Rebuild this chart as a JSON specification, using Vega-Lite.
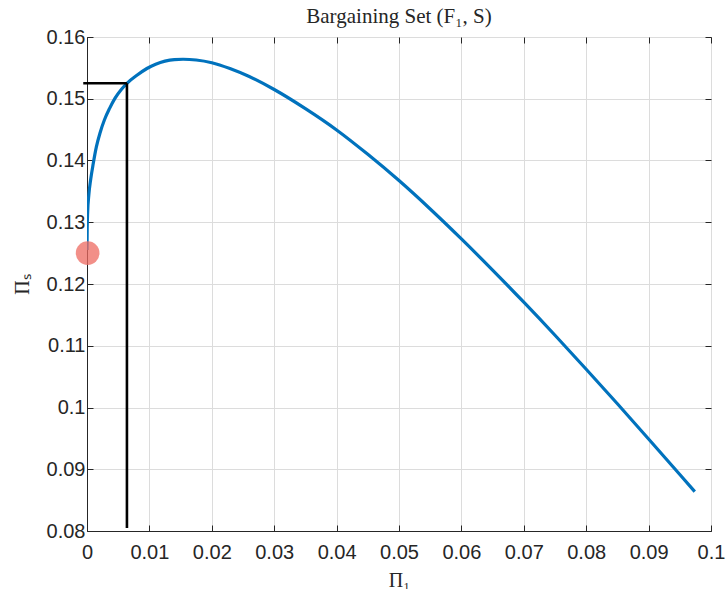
{
  "$schema": "https://vega.github.io/schema/vega-lite/v6.json",
  "width": 624,
  "height": 494,
  "autosize": {"type": "none"},
  "padding": {"left": 87, "top": 37, "right": 16, "bottom": 58},
  "background": "white",
  "title": {"text": "Bargaining Set (F₁, S)", "font": "Liberation Serif", "fontSize": 21, "fontWeight": "normal", "color": "#262626", "offset": 0},
  "config": {
    "view": {"stroke": "#262626", "strokeWidth": 1},
    "axis": {
      "labelFont": "Liberation Sans", "labelFontSize": 20, "labelColor": "#262626", "labelFlush": false,
      "domainColor": "#262626", "tickColor": "#262626", "gridColor": "#dcdcdc", "gridWidth": 1,
      "tickSize": -6, "titleFont": "Liberation Serif", "titleFontSize": 20, "titleFontWeight": "normal", "titleColor": "#262626"
    }
  },
  "datasets": {
    "curve": [
      {"p1": 0, "ps": 0.1255}, {"p1": 0.00003, "ps": 0.129}, {"p1": 0.0001, "ps": 0.1315},
      {"p1": 0.0003, "ps": 0.1345}, {"p1": 0.0006, "ps": 0.137}, {"p1": 0.001, "ps": 0.1395},
      {"p1": 0.0015, "ps": 0.1422}, {"p1": 0.0021, "ps": 0.1445}, {"p1": 0.0028, "ps": 0.1466},
      {"p1": 0.0036, "ps": 0.1484}, {"p1": 0.0045, "ps": 0.1501}, {"p1": 0.0055, "ps": 0.1515},
      {"p1": 0.0064, "ps": 0.1525}, {"p1": 0.008, "ps": 0.1538}, {"p1": 0.0096, "ps": 0.1549},
      {"p1": 0.011, "ps": 0.1556}, {"p1": 0.0125, "ps": 0.1561}, {"p1": 0.014, "ps": 0.15635},
      {"p1": 0.0154, "ps": 0.1564}, {"p1": 0.0175, "ps": 0.15628}, {"p1": 0.02, "ps": 0.15584},
      {"p1": 0.0229, "ps": 0.1549}, {"p1": 0.026, "ps": 0.1536}, {"p1": 0.03, "ps": 0.1515},
      {"p1": 0.035, "ps": 0.1484}, {"p1": 0.04, "ps": 0.14495}, {"p1": 0.045, "ps": 0.141},
      {"p1": 0.05, "ps": 0.13675}, {"p1": 0.055, "ps": 0.13215}, {"p1": 0.06, "ps": 0.1273},
      {"p1": 0.065, "ps": 0.12225}, {"p1": 0.07, "ps": 0.11705}, {"p1": 0.075, "ps": 0.1117},
      {"p1": 0.08, "ps": 0.1062}, {"p1": 0.085, "ps": 0.1006}, {"p1": 0.09, "ps": 0.0949},
      {"p1": 0.095, "ps": 0.08915}, {"p1": 0.0974, "ps": 0.08637}
    ],
    "vrule": [{"x": 0.0064, "y": 0.0805, "y2": 0.1525}],
    "hrule": [{"x": -0.0006, "x2": 0.0064, "y": 0.1525}],
    "start": [{"p1": 0.0001, "ps": 0.125}]
  },
  "layer": [
    {
      "data": {"name": "curve"},
      "mark": {"type": "line", "color": "#0072BD", "strokeWidth": 3.2, "interpolate": "monotone", "clip": true},
      "encoding": {
        "x": {"field": "p1", "type": "quantitative",
              "scale": {"domain": [0, 0.1], "nice": false, "zero": false},
              "axis": {"orient": "bottom", "title": "Π₁", "values": [0, 0.01, 0.02, 0.03, 0.04, 0.05, 0.06, 0.07, 0.08, 0.09, 0.1], "format": "~g", "labelPadding": 17, "titlePadding": 8}},
        "y": {"field": "ps", "type": "quantitative",
              "scale": {"domain": [0.08, 0.16], "nice": false, "zero": false},
              "axis": {"orient": "left", "title": "Πₛ", "values": [0.08, 0.09, 0.1, 0.11, 0.12, 0.13, 0.14, 0.15, 0.16], "format": "~g", "labelPadding": 8, "titlePadding": 14}}
      }
    },
    {
      "data": {"name": "vrule"},
      "mark": {"type": "rule", "color": "black", "strokeWidth": 2.6},
      "encoding": {
        "x": {"field": "x", "type": "quantitative", "scale": {"domain": [0, 0.1], "nice": false, "zero": false}, "axis": null},
        "y": {"field": "y", "type": "quantitative", "scale": {"domain": [0.08, 0.16], "nice": false, "zero": false}, "axis": null},
        "y2": {"field": "y2"}
      }
    },
    {
      "data": {"name": "hrule"},
      "mark": {"type": "rule", "color": "black", "strokeWidth": 2.6},
      "encoding": {
        "x": {"field": "x", "type": "quantitative", "scale": {"domain": [0, 0.1], "nice": false, "zero": false}, "axis": null},
        "x2": {"field": "x2"},
        "y": {"field": "y", "type": "quantitative", "scale": {"domain": [0.08, 0.16], "nice": false, "zero": false}, "axis": null}
      }
    },
    {
      "data": {"name": "start"},
      "mark": {"type": "point", "filled": true, "color": "#ee6a60", "opacity": 0.75, "size": 560, "strokeWidth": 0},
      "encoding": {
        "x": {"field": "p1", "type": "quantitative", "scale": {"domain": [0, 0.1], "nice": false, "zero": false},
              "axis": {"orient": "top", "title": null, "labels": false, "grid": false, "domain": false, "values": [0, 0.01, 0.02, 0.03, 0.04, 0.05, 0.06, 0.07, 0.08, 0.09, 0.1]}},
        "y": {"field": "ps", "type": "quantitative", "scale": {"domain": [0.08, 0.16], "nice": false, "zero": false},
              "axis": {"orient": "right", "title": null, "labels": false, "grid": false, "domain": false, "values": [0.08, 0.09, 0.1, 0.11, 0.12, 0.13, 0.14, 0.15, 0.16]}}
      }
    }
  ],
  "resolve": {"axis": {"x": "independent", "y": "independent"}}
}
